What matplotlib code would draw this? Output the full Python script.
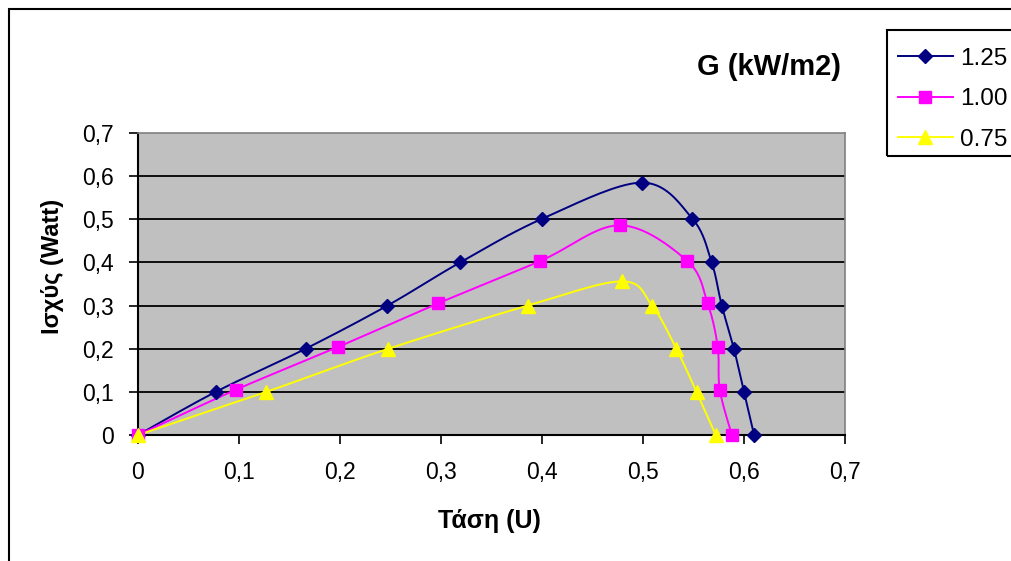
import numpy as np
import matplotlib
matplotlib.use("Agg")
import matplotlib.pyplot as plt
from matplotlib.patches import Rectangle
from matplotlib.lines import Line2D

plt.rcParams['font.family'] = ['Liberation Sans', 'DejaVu Sans']

# Voltage (U) and power (Watt) for each irradiance level G (kW/m2)
u_125 = [0.0, 0.077, 0.166, 0.247, 0.319, 0.400, 0.499, 0.549, 0.568, 0.578, 0.590, 0.600, 0.610]
p_125 = [0.0, 0.100, 0.200, 0.300, 0.400, 0.501, 0.585, 0.501, 0.400, 0.300, 0.200, 0.100, 0.0]

u_100 = [0.0, 0.097, 0.198, 0.297, 0.398, 0.477, 0.544, 0.564, 0.574, 0.576, 0.588]
p_100 = [0.0, 0.105, 0.204, 0.305, 0.403, 0.486, 0.403, 0.305, 0.204, 0.105, 0.0]

u_075 = [0.0, 0.127, 0.248, 0.386, 0.479, 0.509, 0.533, 0.553, 0.572]
p_075 = [0.0, 0.100, 0.200, 0.300, 0.356, 0.300, 0.200, 0.100, 0.0]

labels = ['1.25', '1.00', '0.75']
colors = ['#000080', '#FF00FF', '#FFFF00']
markers = ['D', 's', '^']
msizes = [7.5, 8.5, 9.5]


def smooth(xs, ys, n=20):
    """Bezier path through the given points (smoothed line style)."""
    pts = np.column_stack([xs, ys]).astype(float)
    ext = np.vstack([pts[0], pts, pts[-1]])
    out = []
    t = np.linspace(0, 1, n, endpoint=False)[:, None]
    for i in range(1, len(ext) - 2):
        p0, p1, p2, p3 = ext[i - 1], ext[i], ext[i + 1], ext[i + 2]
        c1 = p1 + (p2 - p0) / 6.0
        c2 = p2 - (p3 - p1) / 6.0
        seg = ((1 - t) ** 3) * p1 + 3 * ((1 - t) ** 2) * t * c1 + 3 * (1 - t) * t ** 2 * c2 + t ** 3 * p2
        out.append(seg)
    out.append(pts[-1][None, :])
    out = np.vstack(out)
    return out[:, 0], out[:, 1]


W, H = 1011, 561
fig = plt.figure(figsize=(W / 100, H / 100), dpi=100)
fig.patch.set_facecolor('white')

# outer chart frame
fig.patches.append(Rectangle((9 / W, -0.1), 1.2, 1 - 9 / H + 0.1, transform=fig.transFigure,
                             fill=False, edgecolor='black', linewidth=1.5))

ax = fig.add_axes([138 / W, 1 - 435 / H, (845 - 138) / W, (435 - 133) / H])
ax.set_facecolor('#C0C0C0')

series = [(u_125, p_125), (u_100, p_100), (u_075, p_075)]
handles = []
for (u, p), lab, c, m, ms in zip(series, labels, colors, markers, msizes):
    sx, sy = smooth(u, p)
    ax.plot(sx, sy, color=c, linewidth=1.4, zorder=3)
    ax.plot(u, p, linestyle='none', marker=m, markersize=ms, color=c,
            markeredgecolor=c, zorder=4, clip_on=False)
    handles.append(Line2D([], [], color=c, linewidth=1.4, marker=m, markersize=ms,
                          markeredgecolor=c, label=lab))

ax.set_xlim(0, 0.7)
ax.set_ylim(0, 0.7)
ticks = np.round(np.arange(0, 0.71, 0.1), 1)
ax.set_xticks(ticks)
ax.set_yticks(ticks)
fmt = lambda v: '0' if v == 0 else f'{v:.1f}'.replace('.', ',')
ax.set_xticklabels([fmt(v) for v in ticks], fontsize=16.5)
ax.set_yticklabels([fmt(v) for v in ticks], fontsize=16.5)
ax.tick_params(direction='out', length=6.5, width=1.2, colors='black')
ax.tick_params(axis='x', pad=12)
ax.tick_params(axis='y', pad=11)

for v in ticks[1:-1]:
    ax.axhline(v, color='black', linewidth=1.3, zorder=1)

ax.spines['left'].set_linewidth(1.5)
ax.spines['bottom'].set_linewidth(1.5)
ax.spines['top'].set_color('#808080')
ax.spines['right'].set_color('#808080')
ax.spines['top'].set_linewidth(1.2)
ax.spines['right'].set_linewidth(1.2)

fig.text(489 / W, 1 - 521 / H, 'Τάση (U)', fontsize=18, fontweight='bold',
         ha='center', va='center')
fig.text(53 / W, 1 - 266 / H, 'Ισχύς (Watt)', fontsize=17, fontweight='bold',
         ha='center', va='center', rotation=90)

fig.text(769 / W, 1 - 67 / H, 'G (kW/m2)', fontsize=21, fontweight='bold',
         ha='center', va='center')

# legend box runs past the right edge of the chart
fig.patches.append(Rectangle((887 / W, 1 - 156 / H), 0.2, (156 - 30) / H,
                             transform=fig.transFigure, fill=False,
                             edgecolor='black', linewidth=1.5))
leg = fig.legend(handles=handles, loc='upper left', bbox_to_anchor=(887 / W, 1 - 37 / H),
                 fontsize=17.5, frameon=False,
                 handlelength=2.25, handletextpad=0.3, labelspacing=0.76,
                 borderpad=0.45, borderaxespad=0)

fig.savefig('out.png', dpi=100)
